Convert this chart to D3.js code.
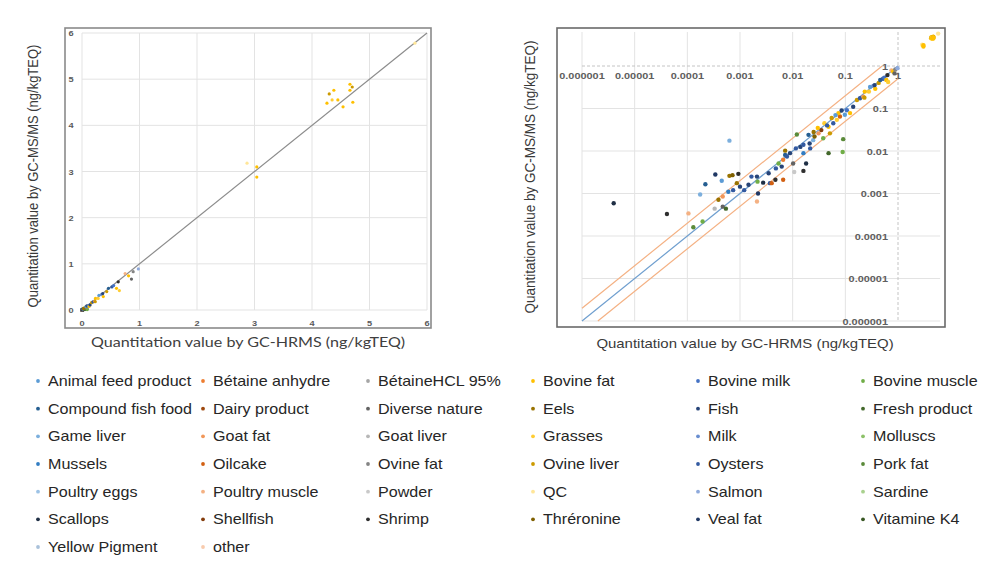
<!DOCTYPE html>
<html>
<head>
<meta charset="utf-8">
<script src="https://cdn.jsdelivr.net/npm/d3@7"></script>
<style>
  html, body { margin: 0; padding: 0; background: #fff; }
  svg { display: block; }
</style>
</head>
<body>
<svg id="chart" width="1000" height="562"></svg>
<script>
// ---------------- DATA ----------------
const categories = [
  "Animal feed product", "Bétaine anhydre", "BétaineHCL 95%", "Bovine fat", "Bovine milk", "Bovine muscle",
  "Compound fish food", "Dairy product", "Diverse nature", "Eels", "Fish", "Fresh product",
  "Game liver", "Goat fat", "Goat liver", "Grasses", "Milk", "Molluscs",
  "Mussels", "Oilcake", "Ovine fat", "Ovine liver", "Oysters", "Pork fat",
  "Poultry eggs", "Poultry muscle", "Powder", "QC", "Salmon", "Sardine",
  "Scallops", "Shellfish", "Shrimp", "Thréronine", "Veal fat", "Vitamine K4",
  "Yellow Pigment", "other"
];

// Quantitation by GC-HRMS (x), ng/kgTEQ
const hrmsValues = [
  4.0e-6, 4.1e-5, 1.05e-4, 1.3e-4, 1.95e-4, 1.75e-4, 2.2e-4, 3.4e-4, 4.5e-4, 6.3e-4,
  3.3e-4, 4.7e-4, 5.4e-4, 3.9e-4, 4.7e-4, 6.3e-4, 7.2e-4, 9.3e-4, 8.7e-4, 6.0e-4,
  7.4e-4, 1.0e-3, 1.2e-3, 1.45e-3, 1.65e-3, 2.1e-3, 2.15e-3, 2.2e-3, 2.1e-3, 2.75e-3,
  3.7e-3, 3.5e-3, 4.0e-3, 4.7e-3, 4.8e-3, 5.4e-3, 6.2e-3, 6.6e-3, 7.2e-3, 6.6e-3,
  7.2e-3, 7.8e-3, 8.9e-3,
  1.02e-2, 1.07e-2, 1.2e-2, 1.15e-2, 1.4e-2, 1.6e-2, 1.6e-2, 1.8e-2, 1.6e-2, 2.1e-2,
  2.15e-2, 2.45e-2, 2.6e-2, 3.1e-2, 3.5e-2, 3.8e-2, 4.8e-2, 5.1e-2, 5.9e-2, 4.8e-2,
  9.1e-2, 8.9e-2, 6.9e-2, 7.9e-2, 7.4e-2, 9.8e-2, 3.0e-2, 4.0e-2, 4.5e-2, 5.5e-2,
  6.5e-2, 8.5e-2, 2.0e-2, 2.5e-2,
  0.107, 0.123, 0.141, 0.166, 0.19, 0.22, 0.23, 0.234, 0.28, 0.295,
  0.34, 0.37, 0.36, 0.43, 0.46, 0.52, 0.55, 0.60, 0.65, 0.63,
  0.75, 0.81, 0.86, 0.89, 0.98,
  2.87, 3.04, 3.04, 4.26, 4.30, 4.38, 4.35, 4.45, 4.54, 4.66,
  4.70, 4.66, 4.71, 5.79
];

// Quantitation by GC-MS/MS (y), ng/kgTEQ
const msmsValues = [
  5.9e-4, 3.3e-4, 3.4e-4, 1.6e-4, 2.2e-4, 9.5e-4, 1.65e-3, 2.8e-3, 2.0e-3, 1.75e-2,
  4.4e-4, 4.9e-4, 4.4e-4, 7.1e-4, 8.5e-4, 2.6e-3, 2.7e-3, 2.9e-3, 1.75e-3, 1.1e-3,
  1.2e-3, 1.45e-3, 1.2e-3, 1.6e-3, 2.5e-3, 2.5e-3, 1.9e-3, 1.0e-3, 6.5e-4, 1.8e-3,
  1.75e-3, 3.0e-3, 1.75e-3, 2.1e-3, 3.9e-3, 5.1e-3, 4.3e-3, 6.2e-3, 8.1e-3, 2.1e-3,
  1.02e-2, 7.4e-3, 8.9e-3,
  5.1e-3, 3.2e-3, 2.45e-2, 1.15e-2, 1.25e-2, 1.4e-2, 8.9e-3, 5.1e-3, 3.4e-3, 1.5e-2,
  1.15e-2, 1.8e-2, 2.2e-2, 2.6e-2, 3.1e-2, 2.0e-2, 3.7e-2, 2.6e-2, 4.5e-2, 8.9e-3,
  1.9e-2, 9.5e-3, 5.4e-2, 6.5e-2, 7.8e-2, 7.1e-2, 3.5e-2, 4.5e-2, 4.0e-2, 6.0e-2,
  7.0e-2, 9.0e-2, 2.4e-2, 2.8e-2,
  0.091, 0.078, 0.11, 0.158, 0.174, 0.19, 0.18, 0.25, 0.25, 0.32,
  0.34, 0.29, 0.355, 0.40, 0.47, 0.50, 0.53, 0.47, 0.42, 0.61,
  0.79, 0.74, 0.67, 0.83, 0.89,
  3.18, 3.10, 2.88, 4.48, 4.68, 4.76, 4.55, 4.55, 4.40, 4.89,
  4.83, 4.76, 4.50, 5.78
];

// category index of each sample
const sampleCategory = [
  30, 32, 25, 23, 5, 12, 6, 34, 0, 12,
  14, 8, 11, 9, 13, 9, 33, 32, 9, 18,
  22, 10, 22, 10, 22, 10, 5, 34, 25, 30,
  22, 10, 19, 32, 22, 5, 10, 1, 6, 19,
  9, 22, 10,
  8, 26, 23, 22, 10, 22, 18, 30, 32, 10,
  22, 12, 33, 13, 31, 5, 3, 21, 22, 11,
  23, 5, 15, 19, 3, 0, 3, 15, 22, 21,
  0, 10, 6, 9,
  4, 3, 10, 21, 22, 13, 21, 3, 15, 0,
  16, 3, 10, 21, 6, 22, 4, 3, 15, 32,
  25, 3, 8, 20, 28,
  27, 3, 3, 3, 21, 3, 15, 3, 3, 3,
  21, 3, 3, 27
];

const linearTicks = [0, 1, 2, 3, 4, 5, 6];
const logTicks = [1e-6, 1e-5, 1e-4, 1e-3, 1e-2, 1e-1, 1];
const logTickLabels = ["0.000001", "0.00001", "0.0001", "0.001", "0.01", "0.1", "1"];
const axisTitleY = "Quantitation value by GC-MS/MS (ng/kgTEQ)";
const axisTitleX = "Quantitation value by GC-HRMS (ng/kgTEQ)";

// ---------------- STYLE ----------------
const palette = [
  "#5B9BD5", "#ED7D31", "#A5A5A5", "#FFC000", "#4472C4", "#70AD47",
  "#255E91", "#9E480E", "#636363", "#997300", "#264478", "#43682B",
  "#7CAFDD", "#F1975A", "#B7B7B7", "#FFCD33", "#698ED0", "#8CC168",
  "#327DC2", "#D26012", "#848484", "#CC9A00", "#335AA1", "#5A8A39",
  "#9DC3E6", "#F4B183", "#C9C9C9", "#FFE699", "#8FAADC", "#A9D18E",
  "#1F2F45", "#843C0C", "#2F2F2F", "#7F6000", "#203864", "#385723",
  "#A9C1DA", "#F8CBAD"
];
const SX = 1.15; // horizontal stretch of the source picture
const sans = "'Liberation Sans', Arial, sans-serif";

const points = hrmsValues.map((x, i) => ({ x, y: msmsValues[i], c: sampleCategory[i] }));

const svg = d3.select("#chart");
svg.append("rect").attr("width", 1000).attr("height", 562).attr("fill", "#fff");

function stext(g, x, y, str, opts) {
  const t = g.append("text")
    .attr("transform", `translate(${x},${y}) scale(${SX},1)` + (opts.rotate ? ` rotate(${opts.rotate})` : ""))
    .attr("text-anchor", opts.anchor || "start")
    .attr("dominant-baseline", opts.baseline || "auto")
    .style("font-family", opts.family || sans)
    .style("font-size", opts.size + "px")
    .style("font-weight", opts.weight || "normal")
    .attr("fill", opts.fill || "#333")
    .text(str);
  return t;
}

// ================= LEFT (linear) CHART =================
const L = svg.append("g");
const xL = d3.scaleLinear().domain([0, 6]).range([82, 427]);
const yL = d3.scaleLinear().domain([0, 6]).range([310, 33]);

L.append("rect").attr("x", 65).attr("y", 28).attr("width", 366).attr("height", 300)
  .attr("fill", "none").attr("stroke", "#8a8a8a").attr("stroke-width", 1.6);

L.selectAll(".gvx").data(linearTicks).join("line")
  .attr("x1", d => xL(d)).attr("x2", d => xL(d)).attr("y1", yL(6)).attr("y2", yL(0))
  .attr("stroke", "#e3e3e3").attr("stroke-width", 1);
L.selectAll(".gvy").data(linearTicks).join("line")
  .attr("x1", xL(0)).attr("x2", xL(6)).attr("y1", d => yL(d)).attr("y2", d => yL(d))
  .attr("stroke", "#e3e3e3").attr("stroke-width", 1);

linearTicks.forEach(t => {
  stext(L, xL(t), 326, String(t), { size: 8, weight: "bold", anchor: "middle", fill: "#5a5a5a" });
  stext(L, 71, yL(t) + 3, String(t), { size: 8, weight: "bold", anchor: "middle", fill: "#5a5a5a" });
});

L.append("line").attr("x1", xL(0)).attr("y1", yL(0)).attr("x2", xL(6)).attr("y2", yL(6))
  .attr("stroke", "#8c8c8c").attr("stroke-width", 1.2);

L.selectAll(".pt").data(points).join("circle")
  .attr("cx", d => xL(d.x)).attr("cy", d => yL(d.y)).attr("r", 1.6)
  .attr("fill", d => palette[d.c]);

stext(L, 38, 176, axisTitleY, { size: 13, anchor: "middle", rotate: -90, fill: "#3a3a3a" });
stext(L, 248, 347, axisTitleX, { size: 14, anchor: "middle", family: "Lato, 'Open Sans', sans-serif", fill: "#404040" });

// ================= RIGHT (log) CHART =================
const R = svg.append("g");
const xR = d3.scaleLog().domain([1e-6, 1]).range([582, 898]);
const yR = d3.scaleLog().domain([1e-6, 1]).range([321, 66]);
const rightMax = 6.3;

R.append("rect").attr("x", 557).attr("y", 28).attr("width", 388).attr("height", 299)
  .attr("fill", "none").attr("stroke", "#6a6a6a").attr("stroke-width", 1.6);

R.selectAll(".gvx").data(logTicks.slice(0, -1)).join("line")
  .attr("x1", d => xR(d)).attr("x2", d => xR(d)).attr("y1", yR(rightMax)).attr("y2", yR(1e-6))
  .attr("stroke", "#e3e3e3");
R.selectAll(".gvy").data(logTicks.slice(0, -1)).join("line")
  .attr("x1", xR(1e-6)).attr("x2", xR(rightMax)).attr("y1", d => yR(d)).attr("y2", d => yR(d))
  .attr("stroke", "#e3e3e3");
// axes crossing at 1
R.append("line").attr("x1", xR(1)).attr("x2", xR(1)).attr("y1", yR(rightMax)).attr("y2", yR(1e-6))
  .attr("stroke", "#c4c4c4").attr("stroke-dasharray", "3,2");
R.append("line").attr("x1", xR(1e-6)).attr("x2", xR(rightMax)).attr("y1", yR(1)).attr("y2", yR(1))
  .attr("stroke", "#c4c4c4").attr("stroke-dasharray", "3,2");

logTicks.forEach((t, i) => {
  stext(R, xR(t), yR(1) + 13, logTickLabels[i], { size: 9.5, weight: "bold", anchor: "middle", fill: "#5f5f5f" });
  stext(R, xR(1) - 10, yR(t) + 3.5, logTickLabels[i], { size: 9.5, weight: "bold", anchor: "end", fill: "#5f5f5f" });
});

// reference lines: y = 2x, y = x, y = x/2
const lineGen = d3.line().x(d => xR(d[0])).y(d => yR(d[1]));
R.append("path").datum([[1e-6, 2e-6], [0.5, 1]]).attr("d", lineGen)
  .attr("fill", "none").attr("stroke", "#F4B183").attr("stroke-width", 1.2);
R.append("path").datum([[2e-6, 1e-6], [1, 0.5]]).attr("d", lineGen)
  .attr("fill", "none").attr("stroke", "#F4B183").attr("stroke-width", 1.2);
R.append("path").datum([[1e-6, 1e-6], [1, 1]]).attr("d", lineGen)
  .attr("fill", "none").attr("stroke", "#6F9FCF").attr("stroke-width", 1.2);

R.selectAll(".pt").data(points).join("circle")
  .attr("cx", d => xR(d.x)).attr("cy", d => yR(d.y)).attr("r", 2.2)
  .attr("fill", d => palette[d.c]);

stext(R, 535, 177, axisTitleY, { size: 13.5, anchor: "middle", rotate: -90, fill: "#3a3a3a" });
stext(R, 745, 348, axisTitleX, { size: 13, anchor: "middle", fill: "#3a3a3a" });

// ================= LEGEND =================
const LG = svg.append("g");
const colX = d3.scaleLinear().domain([0, 5]).range([38, 863]);
const rowY = d3.scaleLinear().domain([0, 6]).range([381, 547]);
categories.forEach((name, i) => {
  const cx = colX(i % 6), cy = rowY(Math.floor(i / 6));
  LG.append("circle").attr("cx", cx).attr("cy", cy).attr("r", 1.9).attr("fill", palette[i]);
  stext(LG, cx + 10, cy + 5, name, { size: 14, fill: "#262626" });
});
</script>
</body>
</html>
